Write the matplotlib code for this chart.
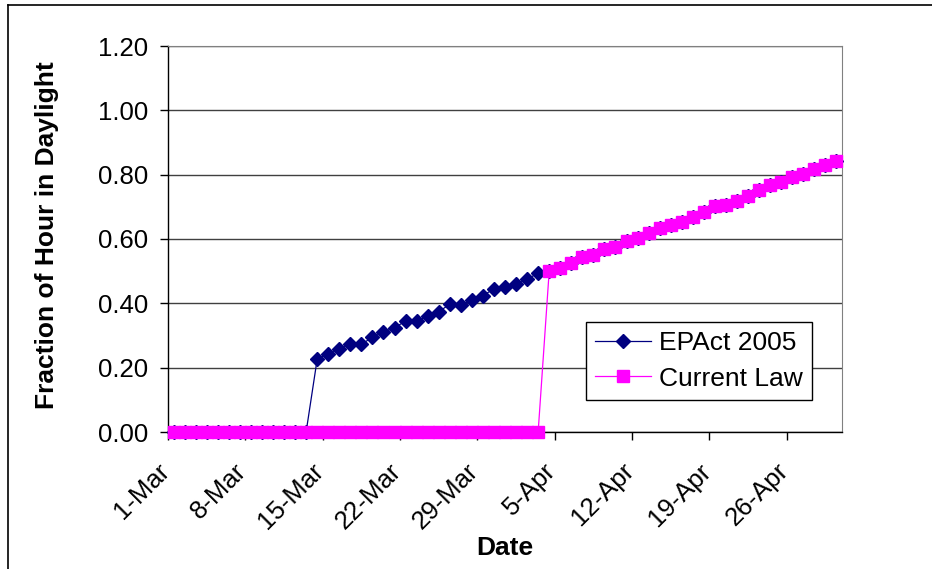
import numpy as np
import matplotlib.pyplot as plt
import matplotlib.transforms as mtransforms
from matplotlib.lines import Line2D

plt.rcParams['font.family'] = ['Liberation Sans', 'DejaVu Sans']

# daily values, 1-Mar through 30-Apr (day 0 = 1-Mar)
days = np.arange(61)

epact = [0.000, 0.000, 0.000, 0.000, 0.000, 0.000, 0.000, 0.000, 0.000, 0.000,
         0.000, 0.000, 0.000,
         0.226, 0.244, 0.259, 0.275, 0.273, 0.294, 0.311, 0.324, 0.345, 0.345,
         0.360, 0.374, 0.397, 0.394, 0.410, 0.424, 0.445, 0.450, 0.459, 0.475,
         0.494,
         0.500, 0.511, 0.524, 0.545, 0.550, 0.570, 0.576, 0.595, 0.602, 0.620,
         0.633, 0.644, 0.654, 0.669, 0.685, 0.703, 0.707, 0.719, 0.735, 0.752,
         0.768, 0.776, 0.794, 0.803, 0.819, 0.829, 0.844]

current_law = [0.000, 0.000, 0.000, 0.000, 0.000, 0.000, 0.000, 0.000, 0.000, 0.000,
               0.000, 0.000, 0.000, 0.000, 0.000, 0.000, 0.000, 0.000, 0.000, 0.000,
               0.000, 0.000, 0.000, 0.000, 0.000, 0.000, 0.000, 0.000, 0.000, 0.000,
               0.000, 0.000, 0.000, 0.000,
               0.500, 0.511, 0.524, 0.545, 0.550, 0.570, 0.576, 0.595, 0.602, 0.620,
               0.633, 0.644, 0.654, 0.669, 0.685, 0.703, 0.707, 0.719, 0.735, 0.752,
               0.768, 0.776, 0.794, 0.803, 0.819, 0.829, 0.844]

tick_days = [0, 7, 14, 21, 28, 35, 42, 49, 56]
tick_labels = ['1-Mar', '8-Mar', '15-Mar', '22-Mar', '29-Mar',
               '5-Apr', '12-Apr', '19-Apr', '26-Apr']

fig = plt.figure(figsize=(9.32, 5.69), dpi=100)
ax = fig.add_axes([168/932, 1 - 432/569, 674/932, 386/569])

# points sit in the middle of each day
x = days + 0.5
ax.plot(x, epact, color='#000080', lw=0.9, marker='D', ms=7.1,
        mec='#000080', mfc='#000080', label='EPAct 2005', clip_on=False, zorder=3)
ax.plot(x, current_law, color='#FF00FF', lw=0.9, marker='s', ms=9.0,
        mec='#FF00FF', mfc='#FF00FF', label='Current Law', clip_on=False, zorder=4)

ax.set_xlim(0, 61)
ax.set_ylim(0, 1.2)
ax.set_yticks(np.arange(0, 1.21, 0.2))
ax.set_yticklabels(['%.2f' % v for v in np.arange(0, 1.21, 0.2)])
ax.set_xticks(tick_days)
ax.set_xticklabels(tick_labels, rotation=45, ha='right', rotation_mode='anchor')

ax.grid(axis='y', color='#404040', lw=1.0)
ax.set_axisbelow(True)
for s in ['top', 'right']:
    ax.spines[s].set_color('#808080')
for s in ['left', 'bottom']:
    ax.spines[s].set_color('black')
    ax.spines[s].set_linewidth(1.0)

ax.tick_params(axis='y', length=5.5, width=1, labelsize=18.5, pad=9)
ax.tick_params(axis='x', length=5.5, width=1, labelsize=18.5, pad=6)

# push the slanted date labels a little down and to the left
shift = mtransforms.ScaledTranslation(-0.11, -0.11, fig.dpi_scale_trans)
for lbl in ax.get_xticklabels():
    lbl.set_transform(lbl.get_transform() + shift)

fig.text(46.7/932, 1 - 235/569, 'Fraction of Hour in Daylight', rotation=90,
         ha='center', va='center', fontsize=19, fontweight='bold')
fig.text(505/932, 1 - 548/569, 'Date', ha='center', va='center',
         fontsize=19, fontweight='bold')

leg = ax.legend(loc='upper right', bbox_to_anchor=(0.955, 0.286), fontsize=19,
                numpoints=1, handlelength=2.1, handletextpad=0.3,
                borderpad=0.35, labelspacing=0.45, borderaxespad=0,
                fancybox=False, framealpha=1, edgecolor='black')
leg.get_frame().set_linewidth(1.0)

# outer chart border
fig.add_artist(Line2D([7.5/932, 7.5/932], [0, 1 - 4.5/569], color='black', lw=1.2))
fig.add_artist(Line2D([7.5/932, 1], [1 - 4.5/569, 1 - 4.5/569], color='black', lw=1.2))

fig.savefig('out.png', dpi=100)
